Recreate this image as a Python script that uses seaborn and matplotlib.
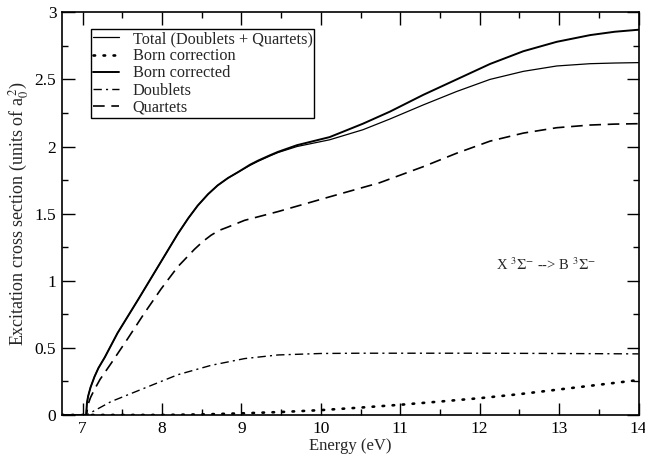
import matplotlib
matplotlib.use("Agg")
import matplotlib.pyplot as plt
import seaborn as sns
import pandas as pd
from matplotlib.ticker import MultipleLocator

# ---- data ----
energy_sum = [6.74, 7.045, 7.055, 7.07, 7.10, 7.15, 7.20, 7.28, 7.44, 7.57, 7.70, 7.95, 8.20,
              8.33, 8.45, 8.58, 8.70, 8.83, 8.96, 9.11, 9.21, 9.36, 9.46, 9.70, 10.11, 10.53,
              10.87, 11.29, 11.71, 12.13, 12.55, 12.97, 13.39, 13.70, 14.0]
total = [0.0, 0.0, 0.09, 0.14, 0.205, 0.285, 0.35, 0.43, 0.61, 0.735, 0.86, 1.105, 1.35,
         1.465, 1.56, 1.645, 1.71, 1.765, 1.81, 1.86, 1.89, 1.93, 1.955, 2.0, 2.05, 2.125,
         2.205, 2.31, 2.41, 2.50, 2.56, 2.60, 2.617, 2.622, 2.625]
born_corrected = [0.0, 0.0, 0.09, 0.14, 0.205, 0.285, 0.35, 0.43, 0.61, 0.735, 0.86, 1.105, 1.35,
                  1.465, 1.56, 1.645, 1.71, 1.765, 1.81, 1.865, 1.895, 1.935, 1.96, 2.01, 2.07,
                  2.17, 2.26, 2.385, 2.50, 2.615, 2.71, 2.78, 2.83, 2.855, 2.87]

energy_q = [6.74, 7.05, 7.07, 7.10, 7.15, 7.22, 7.36, 7.57, 7.78, 7.99, 8.20, 8.41, 8.52,
            8.62, 8.72, 8.83, 9.04, 9.46, 10.11, 10.74, 11.29, 11.71, 12.13, 12.55, 12.97,
            13.39, 13.70, 14.0]
quartets = [0.0, 0.0, 0.08, 0.13, 0.19, 0.265, 0.385, 0.57, 0.76, 0.94, 1.105, 1.235, 1.295,
            1.34, 1.375, 1.40, 1.45, 1.515, 1.625, 1.73, 1.85, 1.95, 2.04, 2.10, 2.14,
            2.16, 2.167, 2.17]

energy_d = [6.74, 7.05, 7.36, 7.78, 8.20, 8.62, 9.04, 9.46, 10.0, 10.5, 11.0, 12.0, 13.0, 14.0]
doublets = [0.0, 0.0, 0.10, 0.20, 0.30, 0.37, 0.42, 0.447, 0.458, 0.46, 0.46, 0.46, 0.458, 0.455]

energy_born = [6.74, 8.0, 8.5, 9.0, 9.5, 10.0, 10.5, 11.0, 11.5, 12.0, 12.5, 13.0, 13.5, 14.0]
born_correction = [0.0, 0.0, 0.004, 0.012, 0.022, 0.036, 0.055, 0.076, 0.10, 0.125,
                   0.155, 0.19, 0.225, 0.26]

labels = ["Total (Doublets + Quartets)", "Born correction", "Born corrected",
          "Doublets", "Quartets"]

sns.set_theme(style="ticks")
plt.rcParams["font.family"] = ["Liberation Serif", "DejaVu Serif"]
plt.rcParams["mathtext.fontset"] = "stix"

fig = plt.figure(figsize=(6.45, 4.55), dpi=100)
ax = fig.add_axes([0.096, 0.088, 0.894, 0.885])

df_sum = pd.DataFrame({"E": energy_sum, "total": total, "bc": born_corrected})
df_q = pd.DataFrame({"E": energy_q, "q": quartets})
df_d = pd.DataFrame({"E": energy_d, "d": doublets})
df_born = pd.DataFrame({"E": energy_born, "b": born_correction})

kw = dict(ax=ax, color="black", legend=False)
sns.lineplot(data=df_sum, x="E", y="total", lw=0.9, **kw)
sns.lineplot(data=df_born, x="E", y="b", lw=1.9, **kw)
sns.lineplot(data=df_sum, x="E", y="bc", lw=1.4, **kw)
sns.lineplot(data=df_d, x="E", y="d", lw=1.0, **kw)
sns.lineplot(data=df_q, x="E", y="q", lw=1.2, **kw)
lines = ax.get_lines()
lines[1].set_linestyle((0, (0.6, 3.2)))
lines[1].set_dash_capstyle("round")
lines[3].set_linestyle((0, (6, 3, 1.5, 3)))
lines[4].set_linestyle((0, (7, 4)))
for ln, lab in zip(lines, labels):
    ln.set_label(lab)
    ln.set_solid_joinstyle("round")

ax.set_xlim(6.74, 14)
ax.set_ylim(0, 3)
ax.xaxis.set_major_locator(MultipleLocator(1))
ax.xaxis.set_minor_locator(MultipleLocator(0.5))
ax.yaxis.set_major_locator(MultipleLocator(0.5))
ax.yaxis.set_minor_locator(MultipleLocator(0.25))
ax.set_yticks([0, 0.5, 1, 1.5, 2, 2.5, 3])
ax.set_yticklabels(["0", "0.5", "1", "1.5", "2", "2.5", "3"])
ax.tick_params(which="both", direction="in", top=True, right=True, colors="black",
               labelsize=12.5, width=1)
ax.tick_params(which="major", length=9, pad=4)
ax.tick_params(which="minor", length=4.5)
for sp in ax.spines.values():
    sp.set_color("black")
    sp.set_linewidth(1.2)

ax.set_xlabel("Energy (eV)", fontsize=12, labelpad=1)
ax.set_ylabel(r"Excitation cross section (units of a$_0^{\,2}$)", fontsize=13, labelpad=3)

ax.text(12.2, 1.12, r"X $^3\Sigma^{-}$ --> B $^3\Sigma^{-}$", fontsize=10.5, va="center",
        ha="left")

leg = ax.legend(loc="upper left", bbox_to_anchor=(0.05, 0.958), borderaxespad=0,
                fontsize=11.7, handlelength=1.6, handletextpad=0.85, labelspacing=0.07,
                frameon=True, fancybox=False, framealpha=1, edgecolor="black",
                borderpad=0.12)
leg.get_frame().set_linewidth(1.0)

fig.savefig("out.png", dpi=100)
